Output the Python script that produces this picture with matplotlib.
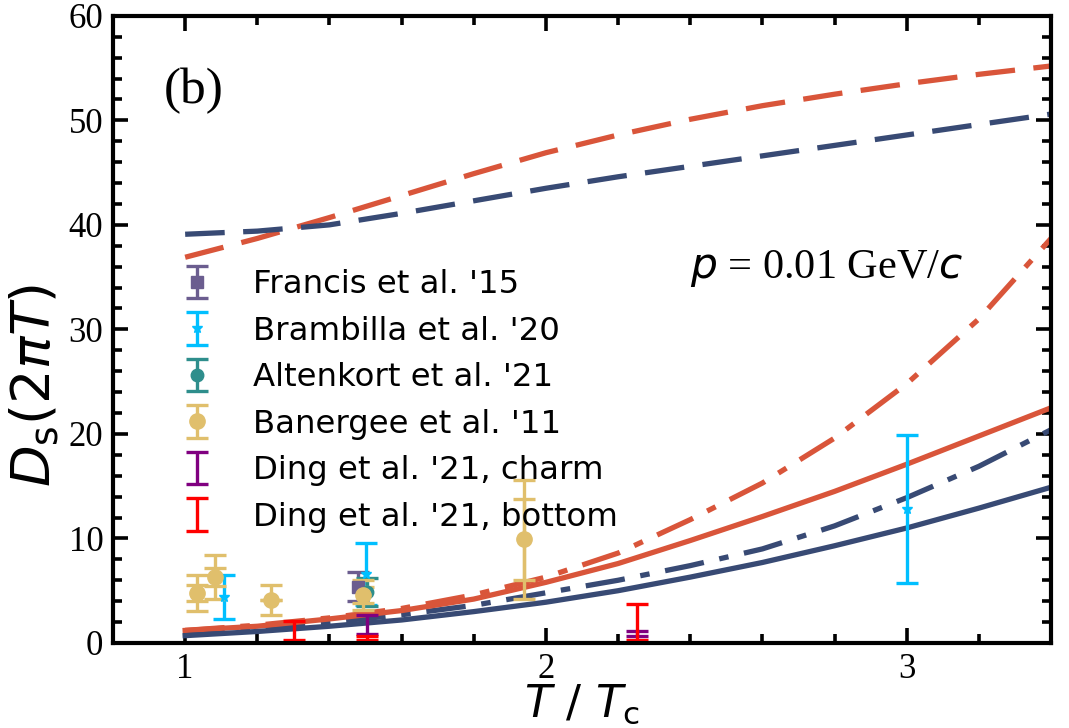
import matplotlib
matplotlib.use("Agg")
import matplotlib.pyplot as plt
from matplotlib.ticker import MultipleLocator

# ---- model curves: D_s(2 pi T) versus T/Tc ----
T_grid = [1.0, 1.2, 1.4, 1.6, 1.8, 2.0, 2.2, 2.4, 2.6, 2.8, 3.0, 3.2, 3.4]
red_dashed = [36.9, 38.7, 40.7, 42.8, 44.9, 46.9, 48.6, 50.1, 51.4, 52.5, 53.5, 54.4, 55.2]
navy_dashed = [39.1, 39.4, 40.0, 41.1, 42.3, 43.5, 44.6, 45.6, 46.6, 47.6, 48.6, 49.6, 50.6]
red_dashdot = [1.2, 1.7, 2.4, 3.3, 4.6, 6.3, 8.6, 11.8, 15.3, 19.6, 24.8, 31.0, 38.7]
red_solid = [1.2, 1.6, 2.3, 3.1, 4.2, 5.8, 7.6, 9.8, 12.1, 14.5, 17.1, 19.8, 22.5]
navy_dashdot = [0.9, 1.4, 2.0, 2.7, 3.6, 4.8, 6.0, 7.4, 9.0, 11.2, 13.9, 16.9, 20.4]
navy_solid = [0.7, 1.1, 1.6, 2.2, 3.0, 3.9, 5.0, 6.3, 7.7, 9.3, 11.0, 12.9, 14.9]

# ---- lattice QCD results ----
francis_T = [1.48]
francis_D = [5.4]
francis_err = [1.4]

brambilla_T = [1.107, 1.50, 3.0]
brambilla_D = [4.4, 6.6, 12.8]
brambilla_err = [2.1, 3.0, 7.1]

altenkort_T = [1.503]
altenkort_D = [4.85]
altenkort_err = [1.35]

banerjee_T = [1.033, 1.084, 1.239, 1.494, 1.940]
banerjee_D = [4.8, 6.3, 4.1, 4.6, 9.9]
banerjee_err_tot = [1.7, 2.1, 1.45, 1.45, 5.7]
banerjee_err_stat = [0.75, 0.85, 0.0, 0.8, 3.85]

ding_c_T = [1.503, 2.253]
ding_c_D = [1.8, 0.88]
ding_c_err = [0.9, 0.22]

ding_b_T = [1.303, 1.503, 2.253]
ding_b_D = [1.2, 0.47, 2.0]
ding_b_err = [0.93, 0.17, 1.72]

RED = "#D9553A"
NAVY = "#384A74"

plt.rcParams["font.family"] = ["Liberation Serif"]
plt.rcParams["mathtext.fontset"] = "custom"
plt.rcParams["mathtext.rm"] = "Liberation Serif"
plt.rcParams["mathtext.it"] = "DejaVu Sans:italic"

fig = plt.figure(figsize=(10.69, 7.28), dpi=100)
ax = fig.add_axes([0.1057, 0.1168, 0.8775, 0.8615])

lw = 3.8
dashed = (0, (7.5, 3.5))
dashdot = (0, (7.5, 3.0, 1.8, 3.0))
ax.plot(T_grid, red_dashed, color=RED, lw=lw, ls=dashed)
ax.plot(T_grid, navy_dashed, color=NAVY, lw=lw, ls=dashed)
ax.plot(T_grid, red_dashdot, color=RED, lw=lw, ls=dashdot)
ax.plot(T_grid, navy_dashdot, color=NAVY, lw=lw, ls=dashdot)
ax.plot(T_grid, red_solid, color=RED, lw=lw)
ax.plot(T_grid, navy_solid, color=NAVY, lw=lw)

eb = dict(elinewidth=2.4, capsize=8, capthick=2.4, ls="none")
h1 = ax.errorbar(francis_T, francis_D, yerr=francis_err, color="#6B5D8F",
                 marker="s", ms=9, label="Francis et al. '15", **eb)
h2 = ax.errorbar(brambilla_T, brambilla_D, yerr=brambilla_err, color="#00BFFF",
                 marker="*", ms=8, label="Brambilla et al. '20", **eb)
h3 = ax.errorbar(altenkort_T, altenkort_D, yerr=altenkort_err, color="#2E8E8C",
                 marker="o", ms=9, label="Altenkort et al. '21", **eb)
ax.errorbar(banerjee_T, banerjee_D, yerr=banerjee_err_stat, color="#E0BF6C",
            marker="none", **eb)
h4 = ax.errorbar(banerjee_T, banerjee_D, yerr=banerjee_err_tot, color="#E0BF6C",
                 marker="o", ms=11, label="Banergee et al. '11", **eb)
h5 = ax.errorbar(ding_c_T, ding_c_D, yerr=ding_c_err, color="#800080",
                 marker="none", label="Ding et al. '21, charm", **eb)
h6 = ax.errorbar(ding_b_T, ding_b_D, yerr=ding_b_err, color="#FF0000",
                 marker="none", label="Ding et al. '21, bottom", **eb)

ax.set_xlim(0.8, 3.4)
ax.set_ylim(0, 60)
ax.xaxis.set_major_locator(MultipleLocator(1))
ax.xaxis.set_minor_locator(MultipleLocator(0.2))
ax.yaxis.set_major_locator(MultipleLocator(10))
ax.yaxis.set_minor_locator(MultipleLocator(2))
ax.tick_params(which="both", direction="in", top=True, right=True, width=2.6,
               labelsize=25)
ax.tick_params(which="major", length=11, pad=7)
ax.tick_params(which="minor", length=6.5)
for s in ax.spines.values():
    s.set_linewidth(3.0)

ax.set_ylabel(r"$D_{\mathrm{s}}(2\pi T)$", fontsize=39, family="DejaVu Sans",
              math_fontfamily="dejavusans")
ax.yaxis.set_label_coords(-0.055, 0.41)
ax.set_xlabel(r"$T\ /\ T_{\mathrm{c}}$", fontsize=32, family="DejaVu Sans",
              math_fontfamily="dejavusans", labelpad=-2)

ax.text(0.94, 52.8, "(b)", fontsize=37, va="center", ha="left")
ax.text(2.40, 35.8, r"$p$ = 0.01 GeV/$c$", fontsize=30.5, va="center", ha="left")

ax.legend(handles=[h1, h2, h3, h4, h5, h6], loc="upper left",
          bbox_to_anchor=(0.072, 0.596), frameon=False,
          prop={"family": "DejaVu Sans", "size": 23.3},
          handlelength=1.0, handletextpad=1.25, labelspacing=0.48,
          borderpad=0, borderaxespad=0)

fig.savefig("out.png", dpi=100)
